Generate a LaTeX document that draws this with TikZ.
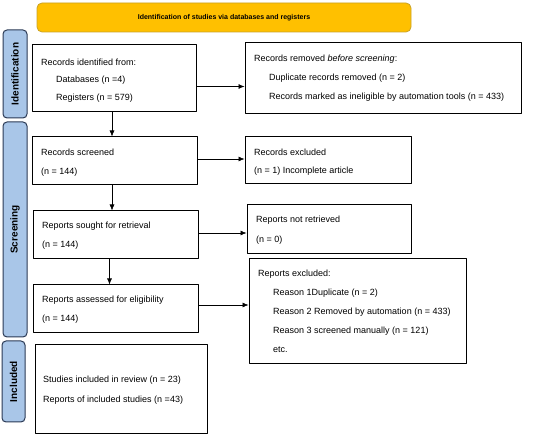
\documentclass[tikz,border=0pt]{standalone}
\usepackage{fontspec}
\setmainfont{Liberation Sans}
\usetikzlibrary{arrows.meta}
\definecolor{bannerfill}{HTML}{FFC000}
\definecolor{bannerline}{HTML}{C9A227}
\definecolor{sidefill}{HTML}{A9C6E8}
\definecolor{sideline}{HTML}{2B3A55}
\begin{document}
\begin{tikzpicture}[x=1pt,y=-1pt,>={Latex[length=6pt,width=5pt]},line join=round,font=\fontsize{9}{11}\selectfont,
	box/.style={draw,line width=1pt,inner sep=0pt},
	txt/.style={anchor=west,inner sep=0pt},
	side/.style={draw=sideline,fill=sidefill,rounded corners=4pt,line width=1pt,inner sep=0pt,rotate=90,font=\fontsize{10}{12}\selectfont\bfseries},
	arr/.style={->,line width=.6pt}]
	\useasboundingbox (0,0) rectangle (550,438);
	%Tiêu đề
	\node[draw=bannerline,fill=bannerfill,rounded corners=5pt,line width=.8pt,minimum width=374pt,minimum height=29pt,font=\fontsize{7}{8}\selectfont\bfseries] (title) at (224,17.5) {Identification of studies via databases and registers};
	%Cột bên trái
	\node[side,minimum width=88pt,minimum height=24pt] (sIdent) at (15,74) {Identification};
	\node[side,minimum width=215pt,minimum height=24pt] (sScreen) at (15,229.5) {Screening};
	\node[side,minimum width=81pt,minimum height=23pt] (sIncl) at (13.5,381.5) {Included};
	%Các hộp
	\node[box,minimum width=164pt,minimum height=67pt] (ident) at (114,78.5) {};
	\node[box,minimum width=276pt,minimum height=71pt] (removed) at (383,78.5) {};
	\node[box,minimum width=165pt,minimum height=48pt] (screened) at (114.5,161) {};
	\node[box,minimum width=166pt,minimum height=47pt] (excluded) at (328,160.5) {};
	\node[box,minimum width=165pt,minimum height=48pt] (sought) at (115.5,235) {};
	\node[box,minimum width=164pt,minimum height=49pt] (notret) at (329,229.5) {};
	\node[box,minimum width=165pt,minimum height=48pt] (assessed) at (115.5,309) {};
	\node[box,minimum width=217pt,minimum height=105pt] (repexcl) at (357.5,311.5) {};
	\node[box,minimum width=172pt,minimum height=89pt] (included) at (121,389.5) {};
	%Chữ trong hộp
	\node[txt] (t1) at (41,62) {Records identified from:};
	\node[txt] (t2) at (56,80) {Databases (n =4)};
	\node[txt] (t3) at (56,98) {Registers (n = 579)};
	\node[txt] (t4) at (254,59) {Records removed \textit{before screening}:};
	\node[txt] (t5) at (269,78) {Duplicate records removed (n = 2)};
	\node[txt] (t6) at (269,97) {Records marked as ineligible by automation tools (n = 433)};
	\node[txt] (t7) at (41,152) {Records screened};
	\node[txt] (t8) at (41,172) {(n = 144)};
	\node[txt] (t9) at (254,152) {Records excluded};
	\node[txt] (t10) at (254,171) {(n = 1) Incomplete article};
	\node[txt] (t11) at (42,226) {Reports sought for retrieval};
	\node[txt] (t12) at (42,245) {(n = 144)};
	\node[txt] (t13) at (256,220) {Reports not retrieved};
	\node[txt] (t14) at (256,240) {(n = 0)};
	\node[txt] (t15) at (42,300) {Reports assessed for eligibility};
	\node[txt] (t16) at (42,319) {(n = 144)};
	\node[txt] (t17) at (258,274) {Reports excluded:};
	\foreach \n/\y/\s in {r1/293/Reason 1Duplicate (n = 2),r2/312/Reason 2 Removed by automation (n = 433),r3/331/Reason 3 screened manually (n = 121),r4/350/etc.}{
		\node[txt] (\n) at (273,\y) {\s};}
	\node[txt] (t18) at (43,380) {Studies included in review (n = 23)};
	\node[txt] (t19) at (43,400) {Reports of included studies (n =43)};
	%Mũi tên
	\draw[arr] ([yshift=-8pt]ident.east) -- ([yshift=-8pt]ident.east -| removed.west);
	\draw[arr] ([yshift=2pt]screened.east) -- ([yshift=2pt]screened.east -| excluded.west);
	\draw[arr] ([yshift=2pt]sought.east) -- ([yshift=2pt]sought.east -| notret.west);
	\draw[arr] ([yshift=4pt]assessed.east) -- ([yshift=4pt]assessed.east -| repexcl.west);
	\draw[arr] ([xshift=-2pt]ident.south) -- ([xshift=-2pt]ident.south |- screened.north);
	\draw[arr] ([xshift=-2.5pt]screened.south) -- ([xshift=-2.5pt]screened.south |- sought.north);
	\draw[arr] ([xshift=-6pt]sought.south) -- ([xshift=-6pt]sought.south |- assessed.north);
\end{tikzpicture}
\end{document}
